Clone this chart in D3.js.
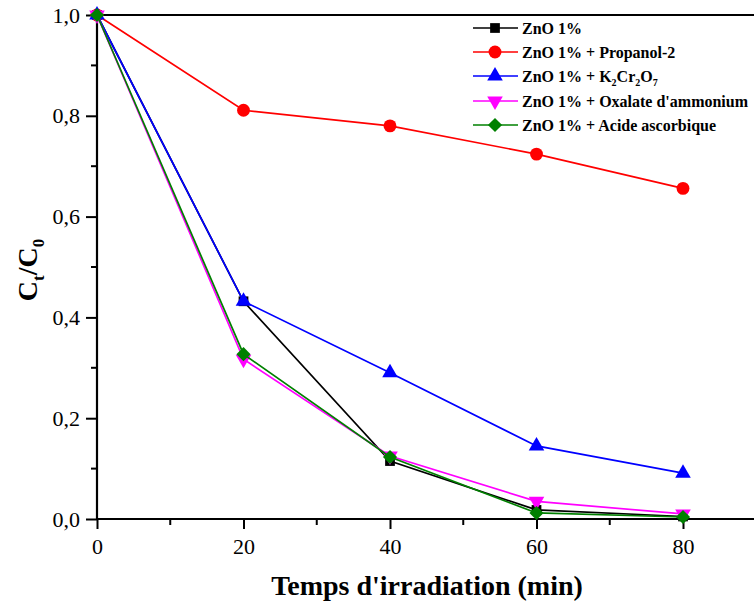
<!DOCTYPE html>
<html>
<head>
<meta charset="utf-8">
<script src="https://cdn.jsdelivr.net/npm/d3@7"></script>
<style>
body { margin: 0; background: #fff; }
svg { display: block; font-family: "Liberation Serif", "Times New Roman", serif; }
</style>
</head>
<body>
<svg id="chart" width="754" height="603"></svg>
<script>
// temps (min)
var times = [0, 20, 40, 60, 80];
var zno = [1.0, 0.432, 0.115, 0.018, 0.005];
var propanol = [1.0, 0.811, 0.780, 0.724, 0.656];
var k2cr2o7 = [1.0, 0.432, 0.290, 0.145, 0.091];
var oxalate = [1.0, 0.317, 0.125, 0.035, 0.010];
var ascorbique = [1.0, 0.327, 0.123, 0.012, 0.004];

var xTicks = [0, 20, 40, 60, 80];
var yTicks = [0, 0.2, 0.4, 0.6, 0.8, 1.0];

var series = [
	{name: "ZnO 1%", values: zno, color: "#000000", sym: d3.symbolSquare, size: 95, rot: 0},
	{name: "ZnO 1% + Propanol-2", values: propanol, color: "#ff0000", sym: d3.symbolCircle, size: 130, rot: 0},
	{name: "K2Cr2O7", values: k2cr2o7, color: "#0000ff", sym: d3.symbolTriangle, size: 105, rot: 0},
	{name: "ZnO 1% + Oxalate d'ammonium", values: oxalate, color: "#ff00ff", sym: d3.symbolTriangle, size: 105, rot: 180},
	{name: "ZnO 1% + Acide ascorbique", values: ascorbique, color: "#008000", sym: d3.symbolSquare, size: 100, rot: 45}
];

var svg = d3.select('#chart');
var m_left = 97, m_top = 15, m_bottom = 519;

var x = d3.scaleLinear().domain([0, 90]).range([m_left, m_left + 146.5*4.5]);
var y = d3.scaleLinear().domain([0, 1]).range([m_bottom, m_top]);

// axes
var xAxis = d3.axisBottom(x).tickValues(xTicks).tickSize(10).tickPadding(9).tickFormat(d3.format('d'));
var yAxis = d3.axisLeft(y).tickValues(yTicks).tickSize(11).tickPadding(6)
	.tickFormat(function(d) { return d3.format('.1f')(d).replace('.', ','); });

var gx = svg.append('g').attr('transform', 'translate(0,' + m_bottom + ')').call(xAxis);
var gy = svg.append('g').attr('transform', 'translate(' + m_left + ',0)').call(yAxis);

// minor ticks
svg.append('g').selectAll('line').data([10, 30, 50, 70]).join('line')
	.attr('x1', function(d) { return x(d); }).attr('x2', function(d) { return x(d); })
	.attr('y1', m_bottom).attr('y2', m_bottom + 6)
	.style('stroke', 'black').style('stroke-width', '2px');
svg.append('g').selectAll('line').data([0.1, 0.3, 0.5, 0.7, 0.9]).join('line')
	.attr('x1', m_left - 6).attr('x2', m_left)
	.attr('y1', function(d) { return y(d); }).attr('y2', function(d) { return y(d); })
	.style('stroke', 'black').style('stroke-width', '2px');

[gx, gy].forEach(function(g) {
	g.select('.domain').remove();
	g.selectAll('.tick line').style('stroke', 'black').style('stroke-width', '2px');
	g.selectAll('.tick text').style('font-family', '"Liberation Serif", serif').style('font-size', '22px').style('fill', 'black');
});

// frame lines
svg.append('line').attr('x1', m_left).attr('x2', 760).attr('y1', m_bottom).attr('y2', m_bottom)
	.style('stroke', 'black').style('stroke-width', '2.2px');
svg.append('line').attr('x1', m_left).attr('x2', 760).attr('y1', m_top).attr('y2', m_top)
	.style('stroke', 'black').style('stroke-width', '2.2px');
svg.append('line').attr('x1', m_left).attr('x2', m_left).attr('y1', m_top - 1).attr('y2', m_bottom + 1)
	.style('stroke', 'black').style('stroke-width', '2.2px');

// series
var line = d3.line().x(function(d) { return x(d.t); }).y(function(d) { return y(d.v); });

series.forEach(function(s) {
	var pts = times.map(function(t, i) { return {t: t, v: s.values[i]}; });
	svg.append('path')
		.attr('d', line(pts))
		.style('fill', 'none')
		.style('stroke', s.color)
		.style('stroke-width', '1.7px');
	svg.append('g').selectAll('path').data(pts).join('path')
		.attr('d', d3.symbol().type(s.sym).size(s.size))
		.attr('transform', function(d) { return 'translate(' + x(d.t) + ',' + y(d.v) + ') rotate(' + s.rot + ')'; })
		.style('fill', s.color);
});

// legend
var legY = [28, 52, 76, 101, 125];
var leg = svg.append('g');
series.forEach(function(s, i) {
	var gy0 = legY[i];
	leg.append('line').attr('x1', 473).attr('x2', 518).attr('y1', gy0).attr('y2', gy0)
		.style('stroke', s.color).style('stroke-width', '1.7px');
	leg.append('path')
		.attr('d', d3.symbol().type(s.sym).size(s.size))
		.attr('transform', 'translate(495,' + gy0 + ') rotate(' + s.rot + ')')
		.style('fill', s.color);
	var t = leg.append('text').attr('x', 522).attr('y', gy0 + 5.5)
		.style('font-size', '16px').style('font-weight', 'bold');
	if (i === 2) {
		t.append('tspan').text('ZnO 1% + K');
		t.append('tspan').attr('dy', 4).style('font-size', '10px').text('2');
		t.append('tspan').attr('dy', -4).text('Cr');
		t.append('tspan').attr('dy', 4).style('font-size', '10px').text('2');
		t.append('tspan').attr('dy', -4).text('O');
		t.append('tspan').attr('dy', 4).style('font-size', '10px').text('7');
	} else {
		t.text(s.name);
	}
});

// axis titles
svg.append('text').attr('x', 427).attr('y', 595).attr('text-anchor', 'middle')
	.style('font-size', '28px').style('font-weight', 'bold').text("Temps d'irradiation (min)");

var yt = svg.append('text').attr('transform', 'translate(37,270) rotate(-90)').attr('text-anchor', 'middle')
	.style('font-size', '28px').style('font-weight', 'bold');
yt.append('tspan').text('C');
yt.append('tspan').attr('dy', 7).style('font-size', '17px').text('t');
yt.append('tspan').attr('dy', -7).text('/C');
yt.append('tspan').attr('dy', 7).style('font-size', '17px').text('0');
</script>
</body>
</html>
